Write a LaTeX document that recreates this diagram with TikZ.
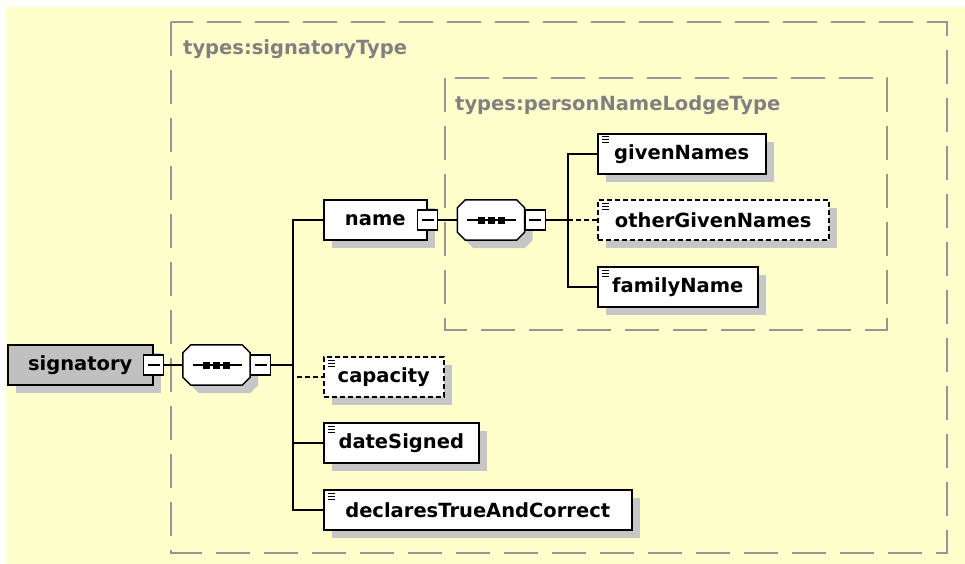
\documentclass[tikz,border=0pt]{standalone}
\usepackage{fontspec}
\setmainfont{DejaVu Sans}
\usepackage{tikz}
\usetikzlibrary{positioning}
\usetikzlibrary{shadows}
\definecolor{bgyellow}{RGB}{255,255,204}
\definecolor{boxgray}{RGB}{192,192,192}
\definecolor{shadegray}{RGB}{198,198,198}
\definecolor{typegray}{RGB}{150,150,150}
\definecolor{labelgray}{RGB}{128,128,128}

\begin{document}
\begin{tikzpicture}[x = 1pt, y = -1pt,
shade/.style={drop shadow = {shadow xshift = 8pt, shadow yshift = -8pt, fill = shadegray, opacity = 1}},
box/.style={draw, line width = 1.5pt, fill = white, anchor = west, minimum height = 40pt, inner sep = 0pt,
  font = \fontsize{19.5}{22}\selectfont\bfseries, shade},
el/.style={box, path picture = {\foreach \d in {3,6,9}
  \draw[solid, line width = 1pt] ([shift = {(4pt,-\d pt)}]path picture bounding box.north west) -- ++(7pt,0pt);}},
opt/.style={el, dash pattern = on 5pt off 3pt},
minus/.style={draw, fill = white, line width = 1.2pt, minimum size = 20pt, inner sep = 0pt,
  path picture = {\draw[line width = 1.2pt] ([xshift = -6pt]path picture bounding box.center) -- ([xshift = 6pt]path picture bounding box.center);}},
seq/.style={minimum width = 67pt, minimum height = 40pt, inner sep = 0pt},
seqline/.style={draw, line width = 1.5pt, fill = white, shade},
link/.style={line width = 1.5pt},
optlink/.style={link, dash pattern = on 5pt off 3pt},
typebox/.style={draw = typegray, line width = 2pt, dash pattern = on 34pt off 14pt},
typelabel/.style={anchor = west, inner sep = 0pt, text = labelgray, font = \fontsize{19.5}{22}\selectfont\bfseries}]
\useasboundingbox (0,0) rectangle (965,564);
\fill[bgyellow] (6,7) rectangle (965,564);
\draw[typebox] (171,22) rectangle (947,553);
\node[typelabel] (sigtype) at (183,49) {types:signatoryType};
\draw[typebox] (445,78) rectangle (887,330);
\node[typelabel] (nametype) at (455,105) {types:personNameLodgeType};
\node[box, fill = boxgray, minimum width = 145pt] (sig) at (7,365) {signatory};
\node[minus] (sigm) at (sig.east) {};
\node[box, minimum width = 103pt] (name) at (323,220) {name};
\node[minus] (namem) at (name.east) {};
\node[seq] (seqa) at (216.5,365) {};
\node[seq] (seqb) at (491,220) {};
\foreach \s in {seqa,seqb} {
  \path[seqline] ([xshift = 8pt]\s.north west) -- ([xshift = -8pt]\s.north east) -- ([yshift = -8pt]\s.north east)
    -- ([yshift = 8pt]\s.south east) -- ([xshift = -8pt]\s.south east) -- ([xshift = 8pt]\s.south west)
    -- ([yshift = 8pt]\s.south west) -- ([yshift = -8pt]\s.north west) -- cycle;
  \draw[line width = 1.2pt] ([xshift = -24pt]\s.center) -- ([xshift = 25pt]\s.center);
  \foreach \u in {-10,0,10}
    \fill ([xshift = \u pt]\s.center) +(-3.5pt,-3.5pt) rectangle +(3.5pt,3.5pt);
}
\node[minus, right = 0pt of seqa] (seqam) {};
\node[minus, right = 0pt of seqb] (seqbm) {};
\node[el, minimum width = 168pt] (given) at (597,154) {givenNames};
\node[opt, minimum width = 231pt] (other) at (597,220) {otherGivenNames};
\node[el, minimum width = 160pt] (family) at (597,287) {familyName};
\node[opt, minimum width = 120pt] (cap) at (323,377) {capacity};
\node[el, minimum width = 155pt] (date) at (323,443) {dateSigned};
\node[el, minimum width = 308pt] (decl) at (323,510) {declaresTrueAndCorrect};
\coordinate (bus) at (293,365);
\coordinate (busb) at (568,220);
\draw[link] (sigm) -- (seqa);
\draw[link] (seqam) -- (bus);
\draw[link] (name.west) -| (bus) |- (decl.west);
\draw[link] (bus) |- (date.west);
\draw[optlink] (bus) |- (cap.west);
\draw[link] (namem) -- (seqb);
\draw[link] (seqbm) -- (busb);
\draw[link] (given.west) -| (busb) |- (family.west);
\draw[optlink] (busb) -- (other);
\end{tikzpicture}
\end{document}
